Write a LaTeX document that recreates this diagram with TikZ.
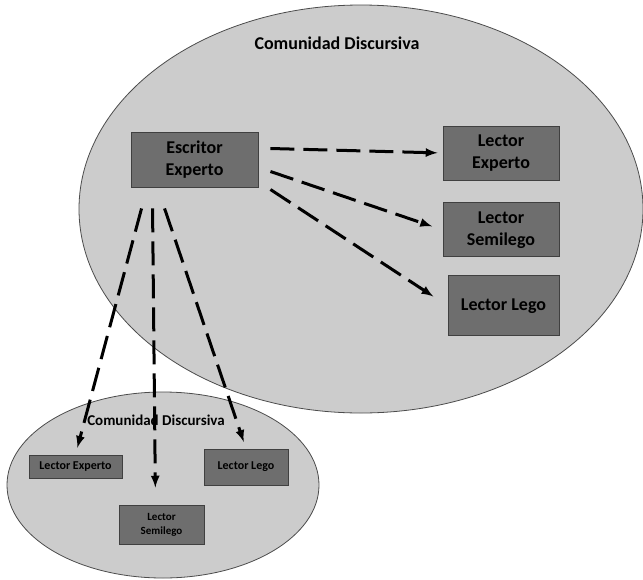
\documentclass[tikz,border=0pt]{standalone}
\usepackage{fontspec}
\setmainfont{Carlito}
\usetikzlibrary{arrows, shapes, positioning}

\begin{document}
\begin{tikzpicture}[x=1pt, y=-1pt, node distance=22pt and 10pt,
    comunidad/.style={ellipse, draw=black!70, line width=0.8pt, fill=black!20, inner sep=0pt},
    caja/.style={rectangle, draw=black!75, line width=0.9pt, fill=black!57, inner sep=0pt, align=center,
        font=\bfseries\fontsize{18}{22}\selectfont},
    cajita/.style={caja, font=\bfseries\fontsize{12}{15}\selectfont},
    titulo/.style={font=\bfseries\fontsize{#1}{#1}\selectfont, inner sep=0pt},
    flecha/.style={-latex, line width=3pt, dash pattern=on 24pt off 9pt}]
    \useasboundingbox (0,0) rectangle (643,579);

    % comunidades
    \node[comunidad, minimum width=564pt, minimum height=408pt] (C1) at (361,209) {};
    \node[comunidad, minimum width=312pt, minimum height=186pt] (C2) at (163,485) {};
    \node[titulo=18] (t1) at (337,43) {Comunidad Discursiva};
    \node[titulo=15] (t2) at (156,420) {Comunidad Discursiva};

    % escritor y lectores
    \node[caja, minimum width=127pt, minimum height=55pt] (E) at (194.5,159.5) {Escritor\\Experto};
    \node[caja, minimum width=116pt, minimum height=54pt] (LE) at (501,153) {Lector\\Experto};
    \node[caja, minimum width=116pt, minimum height=54pt] (LS) [below=22pt of LE] {Lector\\Semilego};
    \node[caja, minimum width=111pt, minimum height=60pt] (LL) [below=18pt of LS.south east, anchor=north east] {Lector Lego};

    \node[cajita, minimum width=93pt, minimum height=23pt] (sLE) at (75.5,466.5) {Lector Experto};
    \node[cajita, minimum width=85pt, minimum height=39pt, font=\bfseries\fontsize{11}{14}\selectfont] (sLS) at (161.5,524.5) {Lector\\Semilego};
    \node[cajita, minimum width=84pt, minimum height=36pt] (sLL) at (246,467) {Lector Lego};

    \path[flecha] ([xshift=12pt,yshift=11pt]E.east) edge[shorten >=5pt] (LE.west)
                  ([xshift=12pt,yshift=-12pt]E.east) edge[shorten >=11pt] (LS.west)
                  ([xshift=12pt,yshift=-30pt]E.east) edge[shorten >=17pt] (LL.west);
    \path[flecha] ([xshift=11pt,yshift=-21pt]E.south west) edge[shorten >=7pt] (sLE.north)
                  ([xshift=22pt,yshift=-21pt]E.south west) edge[shorten >=17pt] ([xshift=-6pt]sLS.north)
                  ([xshift=34pt,yshift=-21pt]E.south west) edge[shorten >=7pt] (sLL.north);
\end{tikzpicture}
\end{document}
